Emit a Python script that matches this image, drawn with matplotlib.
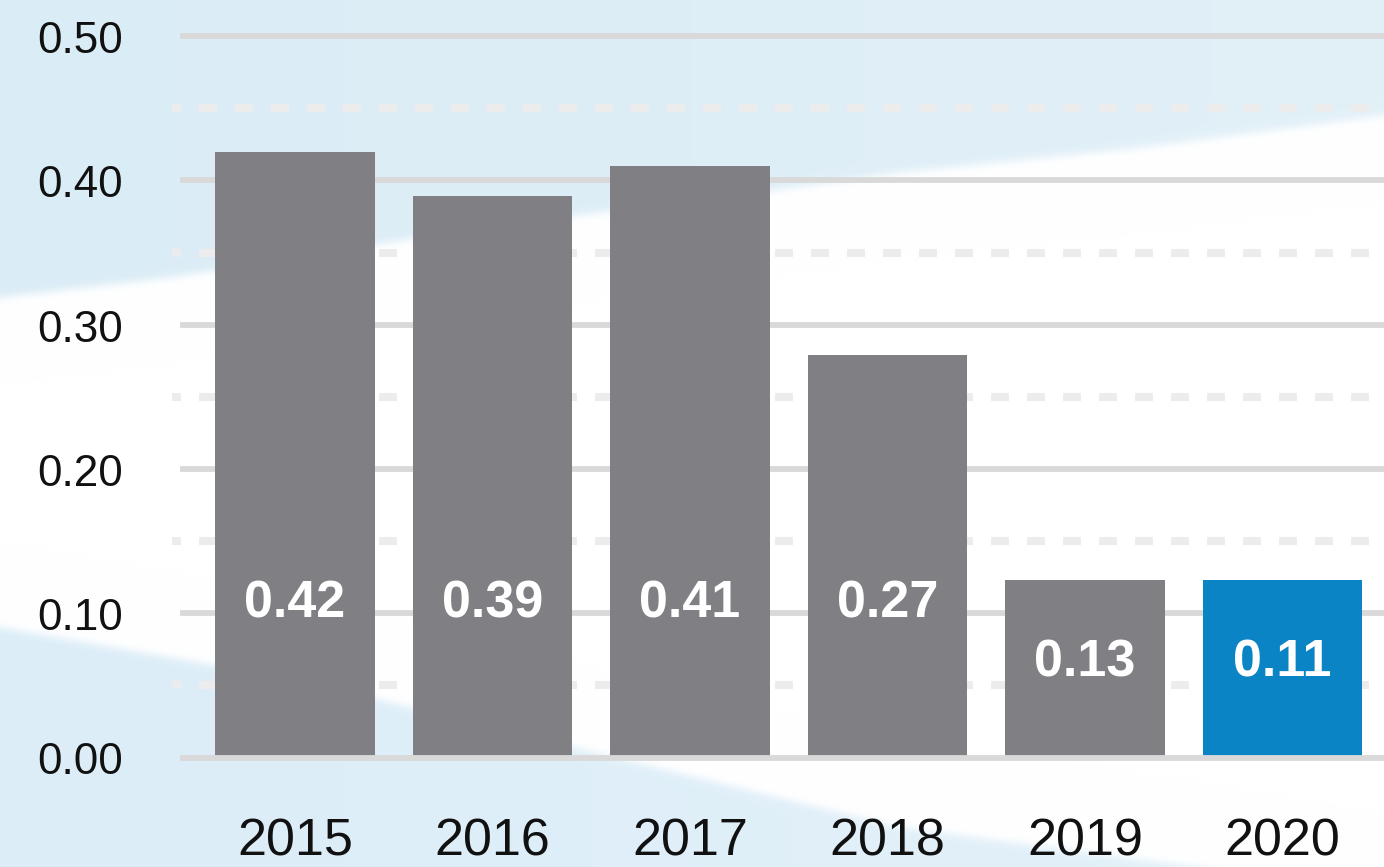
import numpy as np
import matplotlib
matplotlib.use("Agg")
import matplotlib.pyplot as plt

# ---------------- data ----------------
years = ["2015", "2016", "2017", "2018", "2019", "2020"]
bar_heights = [0.42, 0.389, 0.41, 0.279, 0.123, 0.123]
value_labels = ["0.42", "0.39", "0.41", "0.27", "0.13", "0.11"]
y_ticks = [0.0, 0.1, 0.2, 0.3, 0.4, 0.5]
y_tick_labels = ["0.00", "0.10", "0.20", "0.30", "0.40", "0.50"]
highlight = "2020"

# ---------------- style ----------------
plt.rcParams["lines.scale_dashes"] = False
W, H, DPI = 1384, 867, 100
GRAY = "#808084"
BLUE = "#0b84c6"
TICK_FONT = ["Liberation Sans", "DejaVu Sans"]
BOLD_FONT = ["Liberation Sans", "DejaVu Sans"]

fig = plt.figure(figsize=(W / DPI, H / DPI), dpi=DPI)
fig.patch.set_facecolor("white")

# ---------------- decorative background ----------------
bg = fig.add_axes([0, 0, 1, 1], zorder=-5)
xs = np.arange(W)[None, :].astype(float)
ys = np.arange(H)[:, None].astype(float)
top_x = [0, 170, 400, 560, 700, 900, 1133, 1384]
top_y = [297, 277, 240, 217, 200, 172, 148, 115]
bot_x = [0, 300, 900, 1200, 1384]
bot_y = [627, 680, 827, 867, 900]
tb = np.interp(xs, top_x, top_y)
bb = np.interp(xs, bot_x, bot_y)
s = 2.5
w_top = 1 / (1 + np.exp(-(tb - ys) / s))
w_bot = 1 / (1 + np.exp(-(ys - bb) / s))
fx = xs / W
top_col = np.stack([218 + 8 * fx, 236 + 4 * fx, 246 + 2 * fx], axis=-1) / 255.0
bot_col = np.stack([220 + 7 * fx, 237 + 4 * fx, 248 + 1 * fx], axis=-1) / 255.0
img = np.ones((H, W, 3))
img = img * (1 - w_top[..., None]) + top_col * w_top[..., None]
img = img * (1 - w_bot[..., None]) + bot_col * w_bot[..., None]
bg.imshow(img, extent=(0, W, H, 0), aspect="auto", interpolation="bilinear")
bg.set_xlim(0, W)
bg.set_ylim(H, 0)
bg.set_axis_off()

# ---------------- main axes ----------------
left_px = 172
ax = fig.add_axes([left_px / W, 0, 1 - left_px / W, 1])
ax.patch.set_alpha(0)
ax.set_axis_off()
step_px = 197.5
first_center_px = 295.0
ax.set_xlim(-(first_center_px - left_px) / step_px,
            len(years) - 1 + (W - (first_center_px + step_px * (len(years) - 1))) / step_px)
px_per_unit = 1442.6
zero_px = 757.5
ax.set_ylim(-(H - zero_px) / px_per_unit, zero_px / px_per_unit)

solid_start = (180 - left_px) / (W - left_px)
for v in y_ticks:
    ax.axhline(v, xmin=solid_start, xmax=1, color="#d9d9d9", lw=4.2,
               solid_capstyle="butt", zorder=4 if v == 0 else 1)
for a, b in zip(y_ticks[:-1], y_ticks[1:]):
    ax.axhline((a + b) / 2, xmin=0, xmax=1, color="#ececec", lw=5.8,
               linestyle=(6.48, (12.96, 12.96)), dash_capstyle="butt", zorder=1)

x = np.arange(len(years))
colors = [BLUE if y == highlight else GRAY for y in years]
ax.bar(x, bar_heights, width=159.5 / step_px, color=colors, zorder=2)

for i, (h, lab) in enumerate(zip(bar_heights, value_labels)):
    ax.text(i, min(0.097, 0.455 * h), lab, ha="center", va="baseline",
            color="white", fontsize=37.5, fontweight="bold",
            family=BOLD_FONT, zorder=5)

ytrans = ax.get_yaxis_transform()
label_right = (122.7 - left_px) / (W - left_px)
for v, lab in zip(y_ticks, y_tick_labels):
    ax.annotate(lab, xy=(label_right, v), xycoords=ytrans,
                xytext=(0, -17 * 0.72), textcoords="offset points",
                ha="right", va="baseline", fontsize=31.7, color="#111111",
                family=TICK_FONT, fontweight="normal", annotation_clip=False)

for i, yr in enumerate(years):
    ax.annotate(yr, xy=(i, 0), xycoords="data",
                xytext=(0, -97.8 * 0.72), textcoords="offset points",
                ha="center", va="baseline", fontsize=37.5, color="#111111",
                family=TICK_FONT, fontweight="normal", annotation_clip=False)

fig.savefig("out.png", dpi=DPI)
